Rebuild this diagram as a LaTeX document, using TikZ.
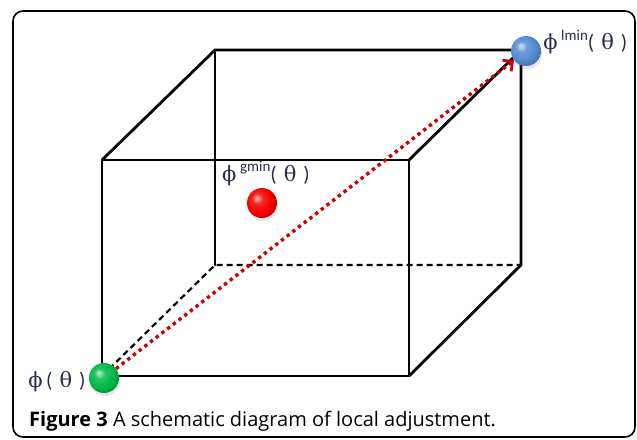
\documentclass[tikz,border=0pt]{standalone}
\usepackage{fontspec}
\setmainfont{Liberation Serif}
\setsansfont{Open Sans}
\newfontfamily\lblfont{DejaVu Serif}
\newfontfamily\supfont{Carlito}
\usetikzlibrary{arrows.meta,positioning,shadows}
\definecolor{inkblue}{RGB}{38,46,72}
\definecolor{dotred}{RGB}{200,0,0}
\definecolor{ballgreen}{RGB}{0,185,75}
\definecolor{ballblue}{RGB}{85,140,210}
\definecolor{ballred}{RGB}{245,0,0}
\makeatletter
\pgfdeclareradialshading[tikz@ball]{glossy}{\pgfqpoint{-9bp}{9bp}}{color(0bp)=(tikz@ball!25!white); color(9bp)=(tikz@ball!85!white); color(20bp)=(tikz@ball); color(28bp)=(tikz@ball!85!black); color(50bp)=(tikz@ball!70!black)}
\makeatother
\newcommand{\philbl}[1]{{\lblfont ϕ}\,\raisebox{0.45em}{\supfont\fontsize{15}{15}\selectfont #1}{\supfont(\,\,}{\lblfont θ}{\supfont\,\,)}}
\tikzset{
  edge/.style={draw, line width=2.8pt, line cap=round},
  hidden/.style={draw, line width=2.2pt, dash pattern=on 6pt off 4pt},
  ball/.style={circle, minimum size=30pt, inner sep=0pt, ball color=#1, shading=glossy, drop shadow={opacity=0.2, shadow xshift=1pt, shadow yshift=-3pt}},
  plbl/.style={font=\fontsize{21}{23}\selectfont, text=inkblue, inner sep=1pt},
  move/.style={draw=dotred, line width=3.4pt, dash pattern=on 3.4pt off 3.8pt, -{Straight Barb[length=7pt, width=14pt, line width=2.8pt]}}
}
\begin{document}
\begin{tikzpicture}[x=1pt, y=-1pt]
\useasboundingbox (0,0) rectangle (637,439);
\draw[line width=1.6pt, rounded corners=10pt] (13,11) rectangle (635,437);
% cube corners
\coordinate (ftl) at (102,160);
\coordinate (ftr) at (409,160);
\coordinate (fbl) at (102,376);
\coordinate (fbr) at (409,376);
\coordinate (btl) at (215,50);
\coordinate (btr) at (521,50);
\coordinate (bbl) at (215,265);
\coordinate (bbr) at (521,265);
% hidden edges
\draw[hidden] (fbl) -- (bbl) -- (bbr);
% visible edges
\draw[edge] (ftl) -- (ftr) -- (fbr) -- (fbl) -- cycle;
\draw[edge] (ftl) -- (btl) -- (btr) -- (bbr) -- (fbr);
\draw[edge] (ftr) -- (btr);
\draw[edge] (btl) -- (bbl);
% points
\node[ball=ballgreen] (start) at (104,378) {};
\node[ball=ballblue] (lmin) at (526,51) {};
\node[ball=ballred] (gmin) at (262,203) {};
\draw[move] (start) -- (lmin);
% labels
\node[plbl, left=2pt of start, yshift=-4pt] (startlbl) {\philbl{}};
\node[plbl, right=1pt of lmin, yshift=9pt] (lminlbl) {\philbl{lmin}};
\node[plbl, above=1pt of gmin, xshift=4pt] (gminlbl) {\philbl{gmin}};
\node[anchor=west, inner sep=0pt, font=\sffamily\fontsize{20}{24}\selectfont] (caption) at (29,421) {\textbf{Figure 3} A schematic diagram of local adjustment.};
\end{tikzpicture}
\end{document}
